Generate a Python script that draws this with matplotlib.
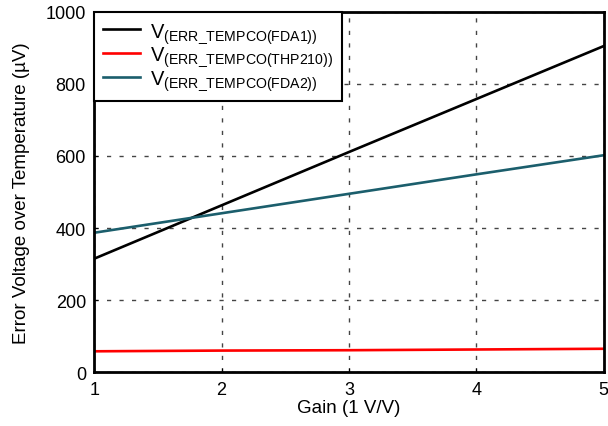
import matplotlib
matplotlib.use("Agg")
import matplotlib.pyplot as plt

gain = [1, 2, 3, 4, 5]
v_fda1 = [315, 463, 611, 758, 905]
v_thp210 = [58, 60, 61, 63, 65]
v_fda2 = [387, 441, 495, 549, 602]

labels = [r"$\mathregular{V_{(ERR\_TEMPCO(FDA1))}}$",
          r"$\mathregular{V_{(ERR\_TEMPCO(THP210))}}$",
          r"$\mathregular{V_{(ERR\_TEMPCO(FDA2))}}$"]

plt.rcParams.update({"font.family": "Liberation Sans", "font.size": 12,
                     "mathtext.fontset": "custom", "mathtext.rm": "Liberation Sans"})

fig = plt.figure(figsize=(6.08, 4.27), dpi=100)
ax = fig.add_axes([0.155, 0.126, 0.838, 0.844])

ax.plot(gain, v_fda1, color="black", lw=1.9, label=labels[0])
ax.plot(gain, v_thp210, color="#ff0000", lw=1.9, label=labels[1])
ax.plot(gain, v_fda2, color="#1b5e6c", lw=1.9, label=labels[2])

ax.set_xlim(1, 5)
ax.set_ylim(0, 1000)
ax.set_xticks([1, 2, 3, 4, 5])
ax.set_yticks([0, 200, 400, 600, 800, 1000])
ax.grid(True, color="#444444", ls=(0, (3, 6)), lw=1.0)
ax.tick_params(direction="in", length=3, width=0.8, labelsize=13, pad=6)
for s in ax.spines.values():
    s.set_linewidth(2)

ax.set_xlabel("Gain (1 V/V)", fontsize=13.5, labelpad=1)
ax.set_ylabel("Error Voltage over Temperature (\u00b5V)", fontsize=13.5, labelpad=11)

leg = ax.legend(loc="upper left", fontsize=14.5, frameon=True, fancybox=False,
                borderaxespad=0, handlelength=1.8, labelspacing=0.0,
                borderpad=0.45, handletextpad=0.5)
leg.get_frame().set_edgecolor("black")
leg.get_frame().set_linewidth(1.5)
leg.get_frame().set_alpha(1)

fig.savefig("out.png", dpi=100)
